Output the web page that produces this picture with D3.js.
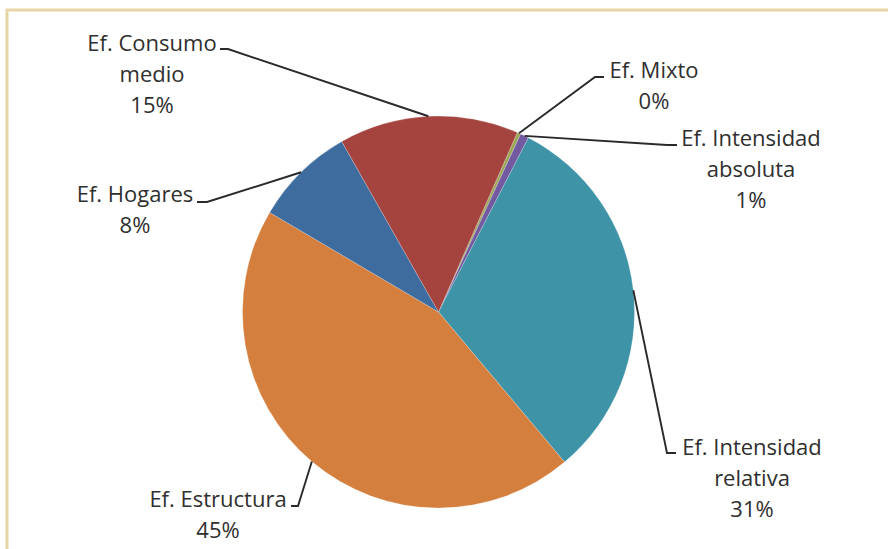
<!DOCTYPE html>
<html>
<head>
<meta charset="utf-8">
<script src="https://cdn.jsdelivr.net/npm/d3@7"></script>
<style>
  body { margin: 0; background: #fff; }
  svg text { font-family: "Open Sans", sans-serif; fill: #2f2f2f; }
</style>
</head>
<body>
<div id="chart"></div>
<script>
// data, in drawing order (clockwise from the first slice)
var categories = ['Ef. Mixto', 'Ef. Intensidad absoluta', 'Ef. Intensidad relativa',
                  'Ef. Estructura', 'Ef. Hogares', 'Ef. Consumo medio'];
var values = [0.3, 0.7, 31.3, 44.6, 8.3, 14.8];
var labelLines = [
    ['Ef. Mixto'],
    ['Ef. Intensidad', 'absoluta'],
    ['Ef. Intensidad', 'relativa'],
    ['Ef. Estructura'],
    ['Ef. Hogares'],
    ['Ef. Consumo', 'medio']
];
var colors = ['#9ca755', '#7359a0', '#3f93a7', '#d47f3e', '#3e6c9f', '#a5433f'];

// label placement (text centre x, first baseline y, leader elbow and end)
var labelLayout = [
    { x: 654, y: 78,  elbow: [595, 77],  end: [604, 77] },
    { x: 751, y: 146, elbow: [667, 145], end: [677, 145] },
    { x: 752, y: 455, elbow: [667, 453], end: [676, 453] },
    { x: 218, y: 507, elbow: [298, 506], end: [291, 506] },
    { x: 135, y: 202, elbow: [207, 202], end: [197, 202] },
    { x: 152, y: 51,  elbow: [228, 49],  end: [220, 49] }
];

var attrs = {
    svgWidth: 888,
    svgHeight: 549,
    cx: 438.5,
    cy: 312,
    radius: 196,
    startDeg: 23.7,
    lineHeight: 31,
    fontSize: 22
};

var svg = d3.select('#chart')
    .append('svg')
    .attr('width', attrs.svgWidth)
    .attr('height', attrs.svgHeight);

// frame
svg.append('line')
    .attr('x1', 6).attr('x2', attrs.svgWidth)
    .attr('y1', 10).attr('y2', 10)
    .attr('stroke', '#e6d6a6').attr('stroke-width', 3);
svg.append('line')
    .attr('x1', 7).attr('x2', 7)
    .attr('y1', 9).attr('y2', attrs.svgHeight)
    .attr('stroke', '#e6d6a6').attr('stroke-width', 3);

var data = categories.map(function (c, i) {
    return { label: c, value: values[i], lines: labelLines[i], color: colors[i], layout: labelLayout[i] };
});

var start = attrs.startDeg * Math.PI / 180;
var pie = d3.pie()
    .value(function (d) { return d.value; })
    .sort(null)
    .startAngle(start)
    .endAngle(start + 2 * Math.PI);

var arc = d3.arc()
    .innerRadius(0)
    .outerRadius(attrs.radius);

var arcs = pie(data);

var chart = svg.append('g')
    .attr('transform', 'translate(' + attrs.cx + ',' + attrs.cy + ')');

chart.selectAll('path.slice')
    .data(arcs)
    .enter()
    .append('path')
    .attr('class', 'slice')
    .attr('d', arc)
    .attr('fill', function (d) { return d.data.color; })
    .attr('stroke', 'rgba(255,255,255,0.35)')
    .attr('stroke-width', 0.6);

// leader lines from the middle of each slice's rim
var line = d3.line();
svg.selectAll('path.leader')
    .data(arcs)
    .enter()
    .append('path')
    .attr('class', 'leader')
    .attr('fill', 'none')
    .attr('stroke', '#2a2a2a')
    .attr('stroke-width', 1.9)
    .attr('d', function (d) {
        var a = (d.startAngle + d.endAngle) / 2;
        var p = [attrs.cx + attrs.radius * Math.sin(a), attrs.cy - attrs.radius * Math.cos(a)];
        return line([p, d.data.layout.elbow, d.data.layout.end]);
    });

// labels
var fmt = d3.format('.0f');
var labels = svg.selectAll('text.label')
    .data(arcs)
    .enter()
    .append('text')
    .attr('class', 'label')
    .attr('text-anchor', 'middle')
    .attr('font-size', attrs.fontSize);

labels.each(function (d) {
    var t = d3.select(this);
    var rows = d.data.lines.concat([fmt(d.data.value) + '%']);
    rows.forEach(function (r, i) {
        t.append('tspan')
            .attr('x', d.data.layout.x)
            .attr('y', d.data.layout.y + i * attrs.lineHeight)
            .text(r);
    });
});
</script>
</body>
</html>
